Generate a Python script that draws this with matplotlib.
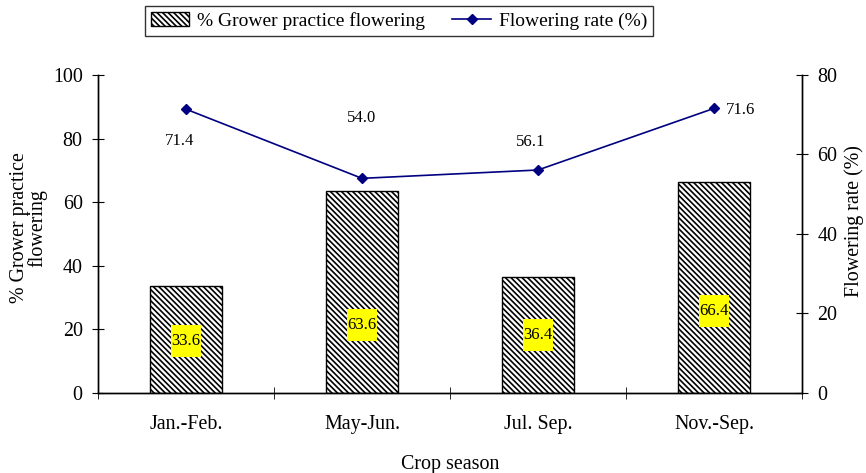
import matplotlib
matplotlib.use("Agg")
import matplotlib.pyplot as plt
from matplotlib.patches import Rectangle
import numpy as np

seasons = ["Jan.-Feb.", "May-Jun.", "Jul. Sep.", "Nov.-Sep."]
grower_pct = [33.6, 63.6, 36.4, 66.4]
flower_rate = [71.4, 54.0, 56.1, 71.6]

plt.rcParams["font.family"] = ["Liberation Serif", "DejaVu Serif"]
plt.rcParams["hatch.linewidth"] = 1.2

fig = plt.figure(figsize=(8.66, 4.73), dpi=100)
ax = fig.add_axes([98 / 866, 80 / 473, 704 / 866, 318 / 473])
ax2 = ax.twinx()

x = np.arange(len(seasons))
bars = ax.bar(x, grower_pct, width=0.41, color="white", edgecolor="black",
              hatch="\\\\\\\\\\\\", linewidth=1.0, label="% Grower practice flowering")

# yellow value boxes inside the bars
label_y = [16.4, 21.4, 18.2, 25.8]
for xi, v, ly in zip(x, grower_pct, label_y):
    ax.add_patch(Rectangle((xi - 0.088, ly - 5.0), 0.176, 10.0,
                           facecolor="yellow", edgecolor="none", zorder=3))
    ax.text(xi, ly, f"{v:.1f}", ha="center", va="center", fontsize=12, zorder=4)

line, = ax2.plot(x, flower_rate, color="#000080", marker="D", markersize=5,
                 linewidth=1.2, label="Flowering rate (%)")

# labels of line points (positions as in the original)
offsets = [(-0.035, -8.0), (0, 15.3), (-0.04, 7.0), (0.15, -0.3)]
for xi, v, (dx, dy) in zip(x, flower_rate, offsets):
    ax2.text(xi + dx, v + dy, f"{v:.1f}", ha="center", va="center", fontsize=12)

ax.set_xlim(-0.5, 3.5)
ax.set_ylim(0, 100)
ax2.set_ylim(0, 80)
ax.set_yticks(np.arange(0, 101, 20))
ax2.set_yticks(np.arange(0, 81, 20))
ax.set_xticks(x)
ax.set_xticklabels(seasons)
ax.set_xticks(np.arange(-0.5, 3.6, 1), minor=True)
ax.tick_params(axis="x", which="major", length=0, labelsize=14.4, pad=16)
ax.tick_params(axis="x", which="minor", length=8, direction="inout")
ax.tick_params(axis="y", length=8, direction="inout", labelsize=14.4, pad=7)
ax2.tick_params(axis="y", length=8, direction="inout", labelsize=14.4, pad=7)

for a in (ax, ax2):
    a.spines["top"].set_visible(False)
    for s in ("left", "right", "bottom"):
        a.spines[s].set_linewidth(1.0)

ax.set_xlabel("Crop season", fontsize=14.4)
ax.xaxis.set_label_coords(0.5, -62 / 318)
ax.set_ylabel("% Grower practice\nflowering", fontsize=14.4, linespacing=0.85)
ax.yaxis.set_label_coords(-51 / 704, 0.52)
ax2.set_ylabel("Flowering rate (%)", fontsize=14.4)
ax2.yaxis.set_label_coords(1 + 42 / 704, 0.54)

leg = fig.legend(handles=[bars, line], loc="center", bbox_to_anchor=(399 / 866, 1 - 21 / 473),
                 ncol=2, fontsize=14, frameon=True, fancybox=False, edgecolor="black",
                 handlelength=2.0, handletextpad=0.4, columnspacing=1.4, borderpad=0.3)
leg.get_frame().set_linewidth(1.0)

fig.savefig("out.png", dpi=100)
